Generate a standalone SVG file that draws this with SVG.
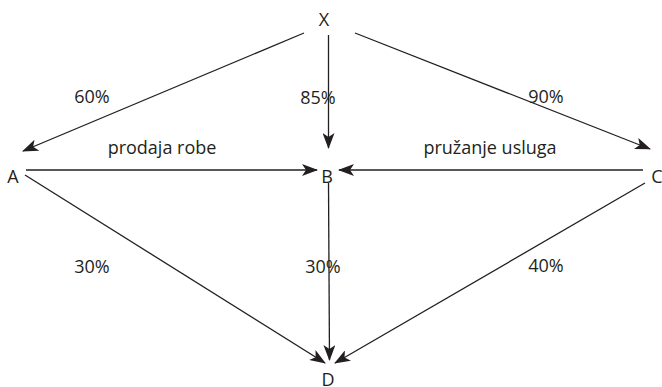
<svg xmlns="http://www.w3.org/2000/svg" width="662" height="387" viewBox="0 0 662 387">
<style>
text{font-family:"Open Sans","Liberation Sans",sans-serif;font-size:18px;fill:#231f20;text-anchor:middle}
.e{stroke:#231f20;stroke-width:1.3;fill:none;marker-end:url(#ah)}
</style>
<defs>
<marker id="ah" markerUnits="userSpaceOnUse" markerWidth="16" markerHeight="12" refX="15" refY="6" orient="auto" viewBox="0 0 16 12">
<path d="M0,0 L16,6 L0,12 L4,6 Z" fill="#231f20"/>
</marker>
</defs>
<rect width="662" height="387" fill="#fff"/>
<g id="connectors">
<line class="e" x1="304" y1="33" x2="23" y2="151"/>
<line class="e" x1="328.5" y1="35" x2="328.5" y2="148"/>
<line class="e" x1="355" y1="33" x2="650" y2="149"/>
<line class="e" x1="26" y1="170" x2="317" y2="170"/>
<line class="e" x1="643" y1="170" x2="339" y2="170"/>
<line class="e" x1="25" y1="175" x2="325" y2="363"/>
<line class="e" x1="328.5" y1="183" x2="329.5" y2="360"/>
<line class="e" x1="645" y1="183" x2="335" y2="363"/>
</g>
<g id="labels">
<text x="92" y="103">60%</text>
<text x="318" y="104">85%</text>
<text x="546" y="103">90%</text>
<text x="162" y="154">prodaja robe</text>
<text x="490" y="154">pružanje usluga</text>
<text x="92" y="273">30%</text>
<text x="323" y="273">30%</text>
<text x="546" y="272">40%</text>
</g>
<g id="node-X"><text x="324" y="26">X</text></g>
<g id="node-A"><text x="13" y="183">A</text></g>
<g id="node-B"><text x="327" y="183">B</text></g>
<g id="node-C"><text x="657" y="183">C</text></g>
<g id="node-D"><text x="328" y="386">D</text></g>
</svg>
